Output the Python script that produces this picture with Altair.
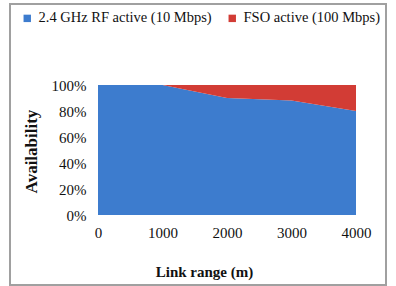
import altair as alt
import pandas as pd

link_range = [0, 1000, 2000, 3000, 4000]
rf_active = [100, 100, 90, 88, 80]
fso_active = [0, 0, 10, 12, 20]
series_names = ["2.4 GHz RF active (10 Mbps)", "FSO active (100 Mbps)"]
series_colors = ["#3d7cce", "#d23c35"]

rows = []
for i, x in enumerate(link_range):
    rows.append({"range": x, "series": series_names[0], "value": rf_active[i] / 100, "ord": 0})
    rows.append({"range": x, "series": series_names[1], "value": fso_active[i] / 100, "ord": 1})
df = pd.DataFrame(rows)

FONT = "Liberation Serif"

area = alt.Chart(df).mark_area(opacity=1).encode(
    x=alt.X("range:Q",
            scale=alt.Scale(domain=[0, 4000], nice=False),
            axis=alt.Axis(values=link_range, format="d", title="Link range (m)", grid=False,
                          domain=False, ticks=False, labelPadding=10, labelFlush=False,
                          labelFontSize=15, labelFont=FONT, labelColor="#111",
                          titleFont=FONT, titleFontSize=15, titleFontWeight="bold",
                          titleColor="#111", titleX=106, titleY=56,
                          titleBaseline="middle", titleAnchor="start", titleAlign="center")),
    y=alt.Y("value:Q", stack="zero",
            scale=alt.Scale(domain=[0, 1], nice=False),
            axis=alt.Axis(values=[0, 0.2, 0.4, 0.6, 0.8, 1.0], format=".0%",
                          title="Availability", grid=False, domain=False, ticks=False,
                          labelPadding=12, labelFlush=False, labelFontSize=15, labelFont=FONT,
                          labelColor="#111", titleFont=FONT, titleFontSize=17,
                          titleFontWeight="bold", titleColor="#111",
                          titleX=-67, titleY=66, titleAngle=-90,
                          titleBaseline="middle", titleAlign="center")),
    color=alt.Color("series:N",
                    scale=alt.Scale(domain=series_names, range=series_colors),
                    sort=series_names,
                    legend=alt.Legend(title=None, orient="none", direction="horizontal",
                                      legendX=-78, legendY=-74,
                                      symbolType="square", symbolSize=55,
                                      symbolStrokeWidth=0, labelLimit=0,
                                      labelFont=FONT, labelFontSize=14.5,
                                      labelColor="#111", columnPadding=13,
                                      labelOffset=4)),
    order=alt.Order("ord:Q"),
)

frame = alt.Chart(df).mark_rect(fill=None, stroke="#a0a0a0", strokeWidth=1.5, clip=False).encode(
    x=alt.value(-88), x2=alt.value(288), y=alt.value(-81), y2=alt.value(200)
)

chart = alt.layer(frame, area).properties(
    width=258, height=130,
    autosize=alt.AutoSizeParams(type="none"),
    padding={"left": 98, "top": 85, "right": 40, "bottom": 71},
    background="white",
).configure_view(stroke=None)

chart.save("out.html", embed_options={"renderer": "svg", "actions": False})
